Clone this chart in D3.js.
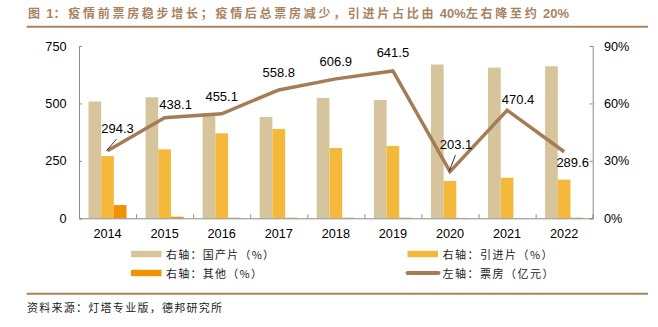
<!DOCTYPE html>
<html>
<head>
<meta charset="utf-8">
<script src="https://cdn.jsdelivr.net/npm/d3@7/dist/d3.min.js"></script>
<style>
  html, body { margin: 0; padding: 0; background: #fff; }
  svg { display: block; }
</style>
</head>
<body>
<svg id="chart" width="658" height="327"></svg>
<script>
// Years on the x axis
const years = ["2014","2015","2016","2017","2018","2019","2020","2021","2022"];
// Share of box office (%), right axis
const domesticShare = [61.0, 63.2, 54.9, 52.9, 62.9, 61.8, 80.3, 78.7, 79.4];
const importShare   = [32.5, 36.0, 44.4, 46.7, 36.7, 37.8, 19.5, 21.2, 20.2];
const otherShare    = [6.9, 0.8, 0.3, 0.3, 0.3, 0.3, 0.2, 0.1, 0.3];
// Total box office (亿元), left axis
const boxOffice = [294.3, 438.1, 455.1, 558.8, 606.9, 641.5, 203.1, 470.4, 289.6];
// Axis ticks
const leftTicks = [0, 250, 500, 750];
const rightTicks = [0, 30, 60, 90];

const seriesNames = ["右轴：国产片（%）", "右轴：引进片（%）", "右轴：其他（%）", "左轴：票房（亿元）"];

const colors = {
  domestic: "#d5c49c",
  imported: "#f4b83a",
  other: "#f39200",
  line: "#a47d56",
  title: "#a8835e",
  axis: "#8c8c8c"
};

const svg = d3.select("#chart");
const latin = "'Liberation Sans', Arial, Helvetica, sans-serif";
const cjk = "'Noto Sans CJK SC', 'Noto Sans', sans-serif";

const plot = { left: 79, right: 592.7, top: 46, bottom: 218.3 };

const x = d3.scaleBand().domain(years).range([plot.left, plot.right]).padding(0);
const yLeft = d3.scaleLinear().domain([0, 750]).range([plot.bottom, plot.top]);
const yRight = d3.scaleLinear().domain([0, 90]).range([plot.bottom, plot.top]);

const bw = x.bandwidth();
const sub = d3.scaleBand().domain(["domestic", "imported", "other"])
  .range([bw * 0.166, bw * 0.833]).padding(0);

// Title: Chinese runs spaced out in the CJK face, numbers in a bold sans face
const titleParts = [
  { t: "图", f: cjk }, { t: " 1", f: latin }, { t: "：疫情前票房稳步增长；疫情后总票房减少，引进片占比由", f: cjk },
  { t: " 40%", f: latin }, { t: "左右降至约", f: cjk }, { t: " 20%", f: latin }
];
const title = svg.append("text")
  .attr("x", 28).attr("y", 17.5)
  .attr("font-weight", "bold").attr("fill", colors.title);
titleParts.forEach(p => {
  title.append("tspan").attr("font-family", p.f)
    .attr("font-size", p.f === latin ? 13 : 12)
    .attr("letter-spacing", p.f === latin ? 0 : 2.4)
    .text(p.t);
});
// Stretch the CJK spacing so the title ends where the layout wants it
const tw = title.node().getComputedTextLength();
if (tw > 0) {
  const cjkCount = titleParts.filter(p => p.f === cjk).reduce((s, p) => s + p.t.length, 0);
  const extra = (541 - tw) / cjkCount;
  title.selectAll("tspan").filter((d, i) => titleParts[i].f === cjk)
    .attr("letter-spacing", 2.4 + extra);
}
svg.append("line").attr("x1", 26.7).attr("x2", 648).attr("y1", 26.7).attr("y2", 26.7)
  .attr("stroke", colors.title).attr("stroke-width", 2);
svg.append("line").attr("x1", 26.7).attr("x2", 648).attr("y1", 293.7).attr("y2", 293.7)
  .attr("stroke", colors.title).attr("stroke-width", 2);

// Bars
const barData = [];
years.forEach((yr, i) => {
  barData.push({ year: yr, key: "domestic", v: domesticShare[i] });
  barData.push({ year: yr, key: "imported", v: importShare[i] });
  barData.push({ year: yr, key: "other", v: otherShare[i] });
});
svg.append("g").selectAll("rect").data(barData).join("rect")
  .attr("x", d => x(d.year) + sub(d.key))
  .attr("width", sub.bandwidth())
  .attr("y", d => yRight(d.v))
  .attr("height", d => yRight(0) - yRight(d.v))
  .attr("fill", d => colors[d.key]);

// Axes
const axisG = svg.append("g");
axisG.append("g").attr("transform", `translate(${plot.left},0)`)
  .call(d3.axisRight(yLeft).tickValues(leftTicks).tickSize(3).tickFormat(""));
axisG.append("g").attr("transform", `translate(${plot.right},0)`)
  .call(d3.axisLeft(yRight).tickValues(rightTicks).tickSize(3).tickFormat(""));
const xTicks = d3.range(years.length + 1).map(i => plot.left + i * bw);
axisG.append("g").attr("transform", `translate(0,${plot.bottom})`)
  .call(d3.axisTop(d3.scaleLinear().domain([plot.left, plot.right]).range([plot.left, plot.right]))
    .tickValues(xTicks).tickSize(4).tickFormat(""));
axisG.selectAll("path.domain").attr("stroke", colors.axis).attr("stroke-width", 1);
axisG.selectAll(".tick line").attr("stroke", colors.axis).attr("stroke-width", 1);

// Tick labels
svg.append("g").selectAll("text").data(leftTicks).join("text")
  .attr("x", 66.5).attr("y", d => yLeft(d) + 4.5)
  .attr("text-anchor", "end")
  .attr("font-family", latin).attr("font-size", 12.7).attr("fill", "#000")
  .text(d => d);
svg.append("g").selectAll("text").data(rightTicks).join("text")
  .attr("x", 604).attr("y", d => yRight(d) + 4.5)
  .attr("font-family", latin).attr("font-size", 12.7).attr("fill", "#000")
  .text(d => d + "%");
svg.append("g").selectAll("text").data(years).join("text")
  .attr("x", d => x(d) + bw / 2).attr("y", 237.7)
  .attr("text-anchor", "middle")
  .attr("font-family", latin).attr("font-size", 12.7).attr("fill", "#000")
  .text(d => d);

// Box office line
const lineData = years.map((yr, i) => ({ year: yr, v: boxOffice[i] }));
const line = d3.line().x(d => x(d.year) + bw / 2).y(d => yLeft(d.v));
svg.append("path").datum(lineData)
  .attr("d", line).attr("fill", "none")
  .attr("stroke", colors.line).attr("stroke-width", 3.5)
  .attr("stroke-linejoin", "miter");

// Value labels (offsets from the point)
const labelOffsets = [
  { dx: 10, dy: -17.5, leader: true },
  { dx: 11, dy: -8.5 },
  { dx: 0, dy: -13 },
  { dx: 0, dy: -13 },
  { dx: 0, dy: -13 },
  { dx: 0, dy: -13.5 },
  { dx: 6, dy: -22.5, leader: true },
  { dx: 11, dy: -6.5 },
  { dx: 8.5, dy: 15 }
];
const labG = svg.append("g");
lineData.forEach((d, i) => {
  const px = x(d.year) + bw / 2, py = yLeft(d.v);
  const o = labelOffsets[i];
  labG.append("text")
    .attr("x", px + o.dx).attr("y", py + o.dy)
    .attr("text-anchor", "middle")
    .attr("font-family", latin).attr("font-size", 13).attr("fill", "#000")
    .text(d3.format(".1f")(d.v));
  if (o.leader) {
    labG.append("line")
      .attr("x1", px - 1).attr("y1", py)
      .attr("x2", px + o.dx * 0.9).attr("y2", py + o.dy + 6)
      .attr("stroke", "#000").attr("stroke-width", 0.8);
  }
});

// Legend
const legend = [
  { name: seriesNames[0], kind: "bar", color: colors.domestic, x: 131, y: 254, len: 108 },
  { name: seriesNames[1], kind: "bar", color: colors.imported, x: 407.5, y: 254, len: 110 },
  { name: seriesNames[2], kind: "bar", color: colors.other, x: 131, y: 273, len: 96 },
  { name: seriesNames[3], kind: "line", color: colors.line, x: 407.5, y: 273, len: 111 }
];
const lg = svg.append("g");
legend.forEach(l => {
  if (l.kind === "bar") {
    lg.append("rect").attr("x", l.x).attr("y", l.y - 3.2).attr("width", 30.5).attr("height", 6.4)
      .attr("fill", l.color);
  } else {
    lg.append("line").attr("x1", l.x).attr("x2", l.x + 31).attr("y1", l.y).attr("y2", l.y)
      .attr("stroke", l.color).attr("stroke-width", 4).attr("stroke-linecap", "round");
  }
  lg.append("text")
    .attr("x", l.x + 35).attr("y", l.y + 4.5)
    .attr("font-family", cjk).attr("font-size", 11).attr("fill", "#222")
    .attr("textLength", l.len).attr("lengthAdjust", "spacing")
    .text(l.name);
});

// Source note
svg.append("text")
  .attr("x", 27).attr("y", 312)
  .attr("font-family", cjk).attr("font-size", 11).attr("fill", "#222")
  .attr("textLength", 195).attr("lengthAdjust", "spacing")
  .text("资料来源：灯塔专业版，德邦研究所");
</script>
</body>
</html>
